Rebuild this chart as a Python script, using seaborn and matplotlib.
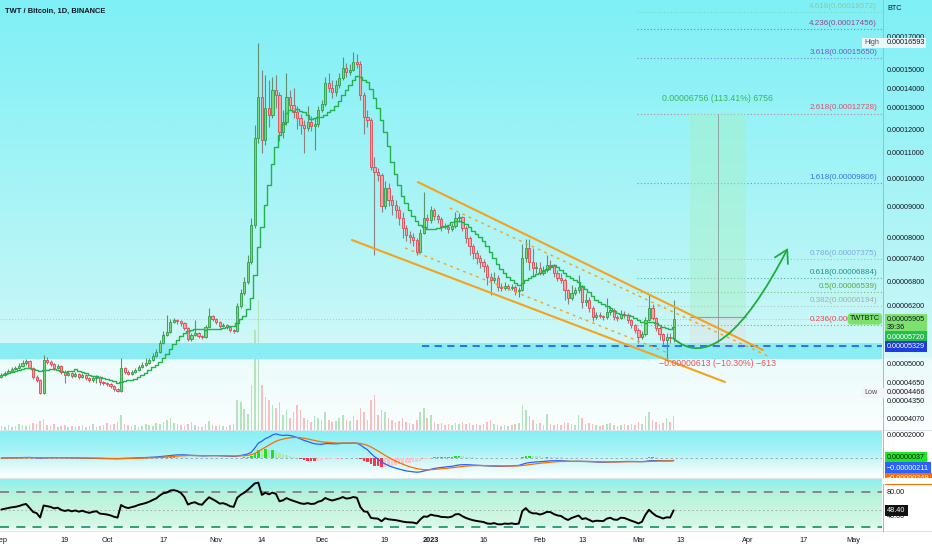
import numpy as np
import pandas as pd
import matplotlib
matplotlib.use("Agg")
import matplotlib.pyplot as plt
import seaborn as sns
from matplotlib.path import Path
from matplotlib.patches import FancyArrowPatch, Rectangle
from matplotlib.lines import Line2D
from matplotlib.colors import to_rgb
from matplotlib.ticker import FuncFormatter, NullLocator

sns.set_style("white")
plt.rcParams['font.family'] = ['Liberation Sans', 'DejaVu Sans']

# ---------------- data (prices in satoshi, 1 sat = 0.00000001 BTC) ----------------
start_date = "2022-09-01"
first_open = 4760
close = [
    4790, 4826, 4862, 4898, 4917, 4953, 5008, 5046, 4917, 4754,
    4700, 4470, 5065, 5027, 4990, 4917, 4953, 4844, 4790, 4826,
    4772, 4808, 4754, 4790, 4736, 4700, 4736, 4754, 4664, 4647,
    4630, 4596, 4545, 4511, 4917, 4844, 4808, 4844, 4880, 4935,
    4971, 5008, 5065, 5142, 5218, 5397, 5561, 5624, 5837, 5882,
    5860, 5815, 5709, 5478, 5561, 5603, 5540, 5520, 5730, 5970,
    5904, 5837, 5751, 5773, 5730, 5666, 5645, 6198, 6506, 6780,
    7305, 8388, 11620, 13540, 11530, 12990, 12660, 13900, 13640, 11870,
    12330, 13540, 13140, 12800, 12510, 12190, 12050, 12330, 12140, 12240,
    12890, 13190, 14270, 14000, 13800, 14160, 14540, 15100, 14850, 15000,
    15420, 15300, 13640, 12570, 12420, 10420, 10230, 10110, 9006, 9630,
    9210, 9040, 8872, 8610, 8296, 8081, 8020, 7932, 7584, 8142,
    8610, 8546, 8872, 8675, 8578, 8357, 8326, 8265, 8357, 8610,
    8642, 8296, 7990, 7757, 7556, 7415, 7305, 7197, 6907, 6830,
    6881, 6654, 6629, 6679, 6629, 6654, 6555, 6579, 7415, 7698,
    7305, 7143, 7143, 7011, 7090, 7224, 7197, 7011, 6881, 6830,
    6579, 6386, 6506, 6579, 6654, 6291, 6338, 6152, 5948, 5993,
    5970, 5948, 6063, 6106, 5948, 5926, 6016, 5993, 5882, 5773,
    5666, 5520, 5582, 5882, 6152, 5926, 5709, 5582, 5458, 5520,
    5500, 5905]
high = [
    4830, 4860, 4900, 4940, 4960, 5000, 5060, 5090, 5070, 4940,
    4780, 4720, 5170, 5120, 5060, 5010, 4990, 4970, 4870, 4860,
    4850, 4840, 4830, 4830, 4810, 4760, 4770, 4790, 4770, 4690,
    4670, 4650, 4620, 4570, 5100, 4940, 4870, 4880, 4920, 4970,
    5020, 5100, 5110, 5190, 5270, 5450, 5650, 5990, 5900, 5930,
    5910, 5880, 5840, 5730, 5600, 5890, 5630, 5570, 5770, 6150,
    6000, 5930, 5860, 5810, 5790, 5750, 5690, 6260, 6600, 6900,
    7500, 8600, 12200, 16593, 15000, 14700, 14400, 14600, 14700, 13800,
    12900, 14800, 13900, 14000, 13100, 12700, 12400, 13100, 12600, 12500,
    13100, 13400, 14600, 14800, 14400, 14400, 14800, 15700, 15400, 15300,
    16000, 15900, 15500, 13800, 12900, 12500, 10800, 10400, 10200, 9900,
    9800, 9400, 9200, 9000, 8800, 8400, 8200, 8150, 8000, 8250,
    9500, 8750, 9000, 8950, 8750, 8650, 8450, 8400, 8450, 8800,
    8780, 8680, 8350, 8050, 7800, 7650, 7500, 7400, 7250, 7000,
    7050, 6950, 6750, 6780, 6730, 6720, 6700, 6650, 7800, 7950,
    7950, 7700, 7300, 7300, 7200, 7500, 7350, 7250, 7100, 7000,
    6880, 6600, 6700, 6650, 6950, 6700, 6500, 6400, 6200, 6050,
    6050, 6000, 6390, 6200, 6150, 6000, 6100, 6080, 6030, 5900,
    5800, 5700, 5650, 5950, 6460, 6250, 5950, 5750, 5600, 5600,
    5600, 6340]
low = [
    4740, 4770, 4800, 4840, 4870, 4890, 4930, 4980, 4890, 4720,
    4660, 4466, 4468, 4990, 4950, 4880, 4890, 4800, 4640, 4770,
    4740, 4750, 4720, 4730, 4700, 4660, 4670, 4640, 4620, 4610,
    4600, 4560, 4510, 4490, 4500, 4810, 4780, 4790, 4820, 4860,
    4910, 4950, 4990, 5040, 5120, 5200, 5380, 5530, 5600, 5820,
    5800, 5760, 5670, 5440, 5440, 5540, 5500, 5480, 5500, 5710,
    5850, 5790, 5700, 5720, 5690, 5620, 5600, 5630, 6150, 6450,
    6740, 7250, 8300, 11400, 11000, 11300, 12100, 12500, 13000, 11500,
    11600, 12200, 12900, 12500, 12000, 11800, 11000, 11900, 11900, 11100,
    12100, 12800, 13100, 13800, 13500, 13600, 14000, 14400, 14600, 14700,
    14900, 15100, 13400, 11800, 12100, 10300, 7500, 9900, 8800, 8900,
    9000, 8700, 8600, 8400, 8000, 7900, 7850, 7750, 7500, 7550,
    8100, 8300, 8450, 8550, 8450, 8200, 8250, 8150, 8200, 8300,
    8500, 8200, 7850, 7500, 7400, 7250, 7150, 7050, 6700, 6450,
    6750, 6550, 6550, 6580, 6570, 6580, 6450, 6400, 6550, 7300,
    7100, 6900, 7000, 6950, 6950, 7050, 7100, 6900, 6800, 6750,
    6350, 6250, 6350, 6450, 6500, 6150, 6200, 6050, 5850, 5900,
    5920, 5880, 5900, 6000, 5880, 5860, 5900, 5930, 5820, 5700,
    5600, 5400, 5480, 5550, 5850, 5880, 5650, 5450, 5360, 5090,
    5400, 5420]
volume = [
    4, 3, 5, 3, 4, 6, 5, 4, 5, 7,
    6, 9, 11, 5, 4, 6, 3, 4, 5, 3,
    4, 3, 4, 5, 3, 4, 6, 3, 4, 5,
    7, 5, 6, 8, 15, 6, 5, 4, 5, 3,
    4, 6, 5, 4, 7, 6, 8, 10, 12, 7,
    6, 5, 4, 6, 8, 5, 4, 3, 6, 9,
    5, 4, 5, 4, 3, 5, 6, 30, 28, 21,
    16, 45, 100, 130, 45, 33, 30, 25, 22, 28,
    15, 20, 12, 18, 25, 20, 12, 10, 8, 14,
    12, 10, 18, 10, 8, 9, 12, 15, 10, 9,
    14, 10, 22, 18, 10, 30, 35, 15, 20, 18,
    12, 10, 8, 9, 12, 8, 7, 6, 10, 18,
    22, 12, 15, 8, 6, 7, 5, 6, 5, 7,
    6, 8, 6, 7, 5, 6, 5, 6, 8, 10,
    6, 5, 4, 5, 4, 5, 6, 7, 25, 20,
    14, 10, 6, 7, 5, 16, 6, 5, 6, 5,
    8, 7, 6, 5, 15, 12, 6, 7, 6, 5,
    4, 5, 6, 7, 5, 4, 5, 6, 5, 6,
    5, 8, 6, 14, 18, 10, 8, 6, 7, 12,
    8, 14]

tick_dates = ["2022-09-01", "2022-09-19", "2022-10-01", "2022-10-17", "2022-11-01",
              "2022-11-14", "2022-12-01", "2022-12-19", "2023-01-01", "2023-01-16",
              "2023-02-01", "2023-02-13", "2023-03-01", "2023-03-13", "2023-04-01",
              "2023-04-17", "2023-05-01"]
tick_labels = ["Sep", "19", "Oct", "17", "Nov", "14", "Dec", "19", "2023", "16",
               "Feb", "13", "Mar", "13", "Apr", "17", "May"]
price_ticks = [17000, 15000, 14000, 13000, 12000, 11000, 10000, 9000, 8000,
               7400, 6800, 6200, 5000, 4650, 4350, 4070]
fib_ratios = ["4.618", "4.236", "3.618", "2.618", "1.618", "0.786", "0.618", "0.5", "0.382", "0.236"]
fib_prices = [18572, 17456, 15650, 12728, 9806, 7375, 6884, 6539, 6194, 5768]
fib_colors = ['#8fc79c', '#a1428f', '#7557c2', '#d9536a', '#3b73e6',
              '#7ea8df', '#16958a', '#5aa83c', '#9fb3a5', '#ee4452']
entry_price, target_price, stop_price = 5957, 12713, 5344
support_level = 5329
zone_low, zone_high = 5083, 5396

# ---------------- derived series ----------------
dates = pd.date_range(start_date, periods=len(close), freq="D")
x = np.asarray((dates - dates[0]).days, dtype=float)
tick_x = np.asarray((pd.to_datetime(tick_dates) - dates[0]).days, dtype=float)
c = np.array(close, float)
o = np.array([first_open] + close[:-1], float)
h = np.array(high, float)
l = np.array(low, float)
v = np.array(volume, float)
up = c >= o
s = pd.Series(c)
sma10 = s.rolling(10, min_periods=1).mean().values
ema12 = s.ewm(span=12, adjust=False).mean()
ema26 = s.ewm(span=26, adjust=False).mean()
macd = (ema12 - ema26).values
signal = pd.Series(macd).ewm(span=9, adjust=False).mean().values
hist = macd - signal
delta = np.diff(c, prepend=c[0])
gains = np.clip(delta, 0, None)
losses = np.clip(-delta, 0, None)
ag = al = np.abs(delta[1:15]).mean() / 2
rsi = [50.0]
for i in range(1, len(c)):
    ag = (ag * 13 + gains[i]) / 14
    al = (al * 13 + losses[i]) / 14
    rsi.append(100 - 100 / (1 + ag / al))
rsi = np.array(rsi)

# ---------------- layout ----------------
W, H = 932, 550
fig = plt.figure(figsize=(W / 100, H / 100), dpi=100)
fig.patch.set_facecolor('white')


def rect(x0, y0, x1, y1):
    return [x0 / W, 1 - y1 / H, (x1 - x0) / W, (y1 - y0) / H]


def grad(stops, n=600):
    pos = [p for p, _ in stops]
    cols = np.array([to_rgb(col) for _, col in stops])
    t = np.linspace(0, 1, n)
    arr = np.stack([np.interp(t, pos, cols[:, k]) for k in range(3)], axis=1)
    return arr[:, None, :]


def add_bg(r, stops):
    b = fig.add_axes(r, zorder=-10)
    b.imshow(grad(stops), aspect='auto', extent=[0, 1, 0, 1], interpolation='bilinear')
    b.set_xlim(0, 1)
    b.set_ylim(0, 1)
    b.set_axis_off()
    return b


MH = 429.5
add_bg(rect(0, 0, 932, MH), [(0, '#7ef0f6'), (100 / MH, '#93f2f6'), (200 / MH, '#a9f4f6'),
                              (300 / MH, '#c1f6f7'), (342 / MH, '#d0f8f8'), (358 / MH, '#d6f9f9'),
                              (360 / MH, '#ebfbfb'), (1, '#fbfefe')])
add_bg(rect(0, 430.5, 882, 477.5), [(0, '#84f0f5'), (0.45, '#a8f3f6'), (0.75, '#dcf9fa'), (1, '#fdffff')])
add_bg(rect(0, 478.5, 882, 530), [(0, '#8aeff3'), (0.22, '#a6f2e4'), (0.3, '#b6f3da'),
                                   (0.9, '#d6f8e6'), (1, '#f0fdf6')])

XL = (-0.4, 250.2)
LBL = dict(fontsize=5.2, color='#131722')

ax = fig.add_axes(rect(0, 0, 882, MH))
axv = ax.twinx()
ax.set_zorder(2)
axv.set_zorder(1.5)
ax.patch.set_visible(False)
axv.patch.set_visible(False)
ax.set_yscale('log')

# volume
vcols = np.where(up, '#b4e4bd', '#f6c0c3')
axv.bar(x, v, width=0.45, color=vcols, linewidth=0)
axv.set_ylim(0, MH)
axv.set_axis_off()

# zone & support
ax.axhspan(zone_low, zone_high, color='#8aedf4', lw=0, zorder=1)
ax.plot([119.5, XL[1]], [support_level, support_level], color='#2962ff', lw=1.3,
        ls=(0, (4, 3)), zorder=3)
ax.axhline(close[-1], color='#49c95c', lw=0.6, ls=(0, (1, 2.5)), alpha=0.6, zorder=2)

# candles
wick_cols = np.where(up, '#5f8f6c', '#8c8080')
ax.vlines(x, l, h, colors=wick_cols, lw=0.8, zorder=3)
bottoms = np.minimum(o, c)
heights = np.maximum(np.abs(c - o), bottoms * 0.004)
ax.bar(x, heights, bottom=bottoms, width=0.62,
       color=np.where(up, '#78d77a', '#ffa0a4'),
       edgecolor=np.where(up, '#2f9c4a', '#e2454f'), linewidth=0.6, zorder=4)
sns.lineplot(x=x, y=sma10, ax=ax, color='#22b34c', lw=1.0, drawstyle='steps-mid', zorder=5)

# channel
orange = '#f5a21e'
ax.plot([118.3, 216.4], [9852, 5257], color=orange, lw=1.5, zorder=6)
ax.plot([99.6, 205.6], [7932, 4665], color=orange, lw=1.5, zorder=6)
ax.plot([127.4, 218.4], [8939, 5121], color=orange, lw=1.0, ls=(0, (2, 3)), zorder=6)
ax.plot([114.7, 189.4], [7699, 5199], color=orange, lw=1.0, ls=(0, (2, 3)), zorder=6)

# fib levels
for r, p, col in zip(fib_ratios, fib_prices, fib_colors):
    ax.plot([180.6, XL[1]], [p, p], color=col, lw=0.8, ls=(0, (1, 2)), alpha=0.7, zorder=2)
    ax.annotate(f"{r}({p / 1e8:.8f})", xy=(0.9945, p), xycoords=('axes fraction', 'data'),
                xytext=(0, 1.5), textcoords='offset points', ha='right', va='bottom',
                fontsize=5.8, color=col, zorder=7)

# long position tool
px0, px1, pxm = 195.6, 211.5, 203.6
ax.fill_between([px0, px1], entry_price, target_price, color='#a6f0c4', alpha=0.45, lw=0, zorder=2)
ax.fill_between([px0, px1], stop_price, entry_price, color='#e8d0d0', alpha=0.25, lw=0, zorder=2)
ax.plot([px0, px1], [entry_price, entry_price], color='#b09090', lw=0.8, zorder=3)
ax.plot([pxm, pxm], [zone_high, target_price], color='#8a9a9a', lw=0.6, zorder=3)
ax.annotate("0.00006756 (113.41%) 6756", xy=(pxm, target_price), xytext=(0, 8),
            textcoords='offset points', ha='center', va='bottom', fontsize=6.3, color='#3cb55a', zorder=8)
ax.annotate("\u22120.00000613 (\u221210.30%) \u2212613", xy=(pxm, stop_price), xytext=(0, -9.6),
            textcoords='offset points', ha='center', va='top', fontsize=6.3, color='#f0505a', zorder=8)

# projection arrow
arrow_path = Path([(190.8, 5498), (204.1, 4700), (223.5, 7699)],
                  [Path.MOVETO, Path.CURVE3, Path.CURVE3])
ax.add_patch(FancyArrowPatch(path=arrow_path, arrowstyle='->,head_length=0.6,head_width=0.35',
                             mutation_scale=15, color='#1fae3e', lw=1.3, zorder=9))

ax.set_xlim(*XL)
ax.set_ylim(3906, 19455)
ax.yaxis.tick_right()
ax.set_yticks(price_ticks)
ax.yaxis.set_minor_locator(NullLocator())
ax.yaxis.set_major_formatter(FuncFormatter(lambda val, pos: f"{val / 1e8:.8f}"))
ax.tick_params(axis='y', length=0, pad=3.6, labelsize=5.2, labelcolor='#131722')
ax.set_xticks([])
ax.set_ylabel("")
for sp in ax.spines.values():
    sp.set_visible(False)


def rtag(axis, yval, text, fc, tc, dy=0.0):
    axis.annotate(text, xy=(1, yval), xycoords=('axes fraction', 'data'), xytext=(3.6, dy),
                  textcoords='offset points', ha='left', va='center', fontsize=5.2, color=tc,
                  linespacing=1.05, bbox=dict(boxstyle='square,pad=0.3', fc=fc, ec='none'),
                  annotation_clip=False, zorder=30)


rtag(ax, close[-1], "0.00005905\n39:36", '#7de26c', '#131722', dy=-3.2)
rtag(ax, 5720, "0.00005720", '#22bf4c', 'white', dy=-6.9)
rtag(ax, support_level, "0.00005329", '#1d3de0', 'white')
ax.annotate("TWTBTC", xy=(1, close[-1]), xycoords=('axes fraction', 'data'), xytext=(-1.5, 0),
            textcoords='offset points', ha='right', va='center', fontsize=5.2, color='#131722',
            bbox=dict(boxstyle='round,pad=0.3,rounding_size=0.5', fc='#7de26c', ec='none'), zorder=30)

# ---------------- MACD ----------------
axm = fig.add_axes(rect(0, 430.5, 882, 477.5), zorder=2)
axm.patch.set_visible(False)
prev = np.concatenate([[0], hist[:-1]])
hcols = np.where(hist >= 0, np.where(hist >= prev, '#22e022', '#a6efa6'),
                 np.where(hist < prev, '#ff3344', '#ffc4cc'))
axm.bar(x, hist, width=0.7, color=hcols, linewidth=0, zorder=2)
axm.axhline(0, color='#9aa0a6', lw=0.6, ls=(0, (3, 3)), zorder=1)
sns.lineplot(x=x, y=macd, ax=axm, color='#2962ff', lw=0.9, zorder=3)
sns.lineplot(x=x, y=signal, ax=axm, color='#ff6d00', lw=0.9, zorder=3)
axm.set_xlim(*XL)
axm.set_ylim(-1696, 2391)
axm.yaxis.tick_right()
axm.set_yticks([2000])
axm.yaxis.set_major_formatter(FuncFormatter(lambda val, pos: f"{val / 1e8:.8f}"))
axm.tick_params(axis='y', length=0, pad=3.6, labelsize=5.2, labelcolor='#131722')
axm.set_xticks([])
axm.set_ylabel("")
for sp in axm.spines.values():
    sp.set_visible(False)
rtag(axm, 37, "0.00000037", '#1ee81e', '#131722')
rtag(axm, -211, "\u22120.00000211", '#2962ff', 'white', dy=-5.5)
rtag(axm, -248, "\u22120.00000248", '#ff6d00', 'white', dy=-13.0)

# ---------------- RSI ----------------
axr = fig.add_axes(rect(0, 478.5, 882, 530), zorder=2)
axr.patch.set_visible(False)
axr.axhline(80, color='#8c7b7e', lw=1.3, ls=(0, (5, 4)), zorder=1)
axr.axhline(20, color='#1f9a73', lw=1.3, ls=(0, (5, 4)), zorder=1)
axr.axhline(50, color='#a0a8a8', lw=0.6, ls=(0, (2, 3)), zorder=1)
sns.lineplot(x=x, y=rsi, ax=axr, color='black', lw=1.4, zorder=3)
axr.set_xlim(*XL)
axr.set_ylim(14.9, 103.1)
axr.yaxis.tick_right()
axr.set_yticks([80, 40])
axr.yaxis.set_major_formatter(FuncFormatter(lambda val, pos: f"{val:.2f}"))
axr.tick_params(axis='y', length=0, pad=3.6, labelsize=5.2, labelcolor='#131722')
axr.set_xticks(tick_x)
axr.set_xticklabels(tick_labels)
axr.tick_params(axis='x', length=0, pad=5.4, labelsize=5.3, labelcolor='#131722')
for t in axr.get_xticklabels():
    if t.get_text() == "2023":
        t.set_fontweight('bold')
axr.set_ylabel("")
for sp in axr.spines.values():
    sp.set_visible(False)
rtag(axr, 48.4, "48.40", '#111111', 'white')

# ---------------- figure-level decorations ----------------
fig.text(5 / W, 1 - 11 / H, "TWT / Bitcoin, 1D, BINANCE", fontsize=5.4, fontweight='bold',
         color='#131722', va='center')
fig.text(887 / W, 1 - 9 / H, "BTC", va='center', **LBL)
for yy, name, val in [(43, "High", "0.00016593"), (393, "Low", "0.00004466")]:
    fig.add_artist(Rectangle((862 / W, 1 - (yy + 5) / H), 64 / W, 10 / H, transform=fig.transFigure,
                             fc='#f2f6f9', ec='none', alpha=0.95, zorder=40))
    fig.text(864 / W, 1 - yy / H, name, fontsize=5.2, color='#50535e', va='center', zorder=41)
    fig.text(887 / W, 1 - yy / H, val, va='center', zorder=41, **LBL)
fig.add_artist(Rectangle((882.6 / W, 1 - 484 / H), 50 / W, 6.3 / H, transform=fig.transFigure,
                         fc='white', ec='none', zorder=40))
for yy in (429.8, 477.9, 530.5):
    fig.add_artist(Line2D([0, 1], [1 - yy / H] * 2, transform=fig.transFigure,
                          color='#dfe4ea', lw=0.8, zorder=35))
fig.add_artist(Line2D([882.5 / W] * 2, [1 - 530.5 / H, 1], transform=fig.transFigure,
                      color='#aab8c0', lw=0.7, zorder=35))

fig.savefig("out.png", dpi=100)
